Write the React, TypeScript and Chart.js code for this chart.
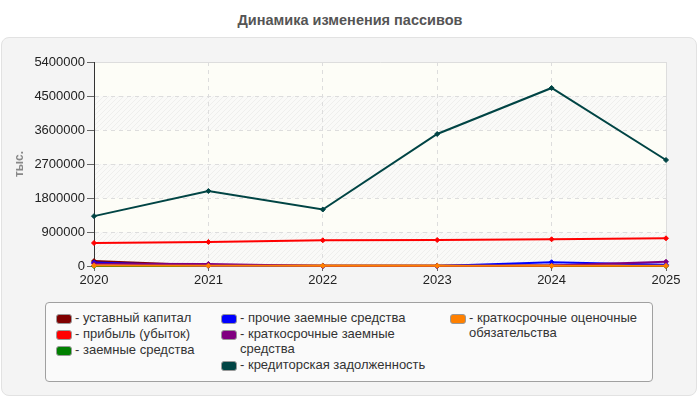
import React, { useEffect, useRef } from "react";
import { Chart, registerables } from "chart.js";

Chart.register(...registerables);

const years = ["2020", "2021", "2022", "2023", "2024", "2025"];
const ustavnyKapital = [130000, 15000, 10000, 10000, 10000, 10000];
const pribyl = [609000, 635000, 680000, 688000, 707000, 733000];
const zaemnye = [0, 0, 0, 0, 0, 0];
const prochieZaemnye = [90000, 0, 0, 0, 100000, 30000];
const kratkoZaemnye = [60000, 55000, 0, 0, 10000, 112000];
const kreditorskaya = [1320000, 1985000, 1495000, 3494000, 4712000, 2806000];
const ocenochnye = [10000, 5000, 5000, 5000, 5000, 5000];

const seriesNames = [
  "уставный капитал",
  "прибыль (убыток)",
  "заемные средства",
  "прочие заемные средства",
  "краткосрочные заемные средства",
  "кредиторская задолженность",
  "краткосрочные оценочные обязательства",
];
const seriesData = [ustavnyKapital, pribyl, zaemnye, prochieZaemnye, kratkoZaemnye, kreditorskaya, ocenochnye];
const seriesColors = ["#800000", "#ff0000", "#008000", "#0000ff", "#800080", "#004444", "#ff8000"];
const seriesOrder = [3, 5, 4, 2, 1, 6, 0];
const legendColumns = [[0, 1, 2], [3, 4, 5], [6]];

const FONT = "Liberation Sans, Arial, sans-serif";

const bgPlugin = {
  id: "bands",
  beforeDraw(chart: any) {
    const { ctx, chartArea } = chart;
    const y = chart.scales.y;
    const pc = document.createElement("canvas");
    pc.width = 5;
    pc.height = 5;
    const p = pc.getContext("2d")!;
    p.fillStyle = "#fafaf8";
    p.fillRect(0, 0, 5, 5);
    p.strokeStyle = "rgba(0,0,0,0.045)";
    p.lineWidth = 1;
    p.beginPath();
    p.moveTo(0, 5);
    p.lineTo(5, 0);
    p.moveTo(-1, 1);
    p.lineTo(1, -1);
    p.moveTo(4, 6);
    p.lineTo(6, 4);
    p.stroke();
    const pattern = ctx.createPattern(pc, "repeat");
    const ticks = y.ticks;
    ctx.save();
    for (let i = 0; i < ticks.length - 1; i++) {
      const y0 = y.getPixelForValue(ticks[i].value);
      const y1 = y.getPixelForValue(ticks[i + 1].value);
      ctx.fillStyle = i % 2 === 0 ? pattern : "#fdfdf7";
      ctx.fillRect(chartArea.left, y1, chartArea.right - chartArea.left, y0 - y1);
    }
    ctx.strokeStyle = "#dddddd";
    ctx.lineWidth = 1;
    ctx.beginPath();
    ctx.moveTo(chartArea.left, chartArea.top + 0.5);
    ctx.lineTo(chartArea.right + 0.5, chartArea.top + 0.5);
    ctx.lineTo(chartArea.right + 0.5, chartArea.bottom);
    ctx.stroke();
    ctx.restore();
  },
};

export default function App() {
  const ref = useRef<HTMLCanvasElement>(null);
  useEffect(() => {
    const chart = new Chart(ref.current!, {
      type: "line",
      data: {
        labels: years,
        datasets: seriesNames.map((name, i) => ({
          label: name,
          data: seriesData[i],
          borderColor: seriesColors[i],
          backgroundColor: seriesColors[i],
          borderWidth: 2,
          pointStyle: "rectRot",
          pointRadius: 2.5,
          pointBorderWidth: 1,
          tension: 0,
          order: seriesOrder[i],
          clip: false as any,
        })),
      },
      options: {
        animation: false,
        responsive: false,
        layout: { padding: { left: 0, right: 34, top: 62, bottom: 114 } },
        plugins: { legend: { display: false }, title: { display: false }, tooltip: { enabled: false } },
        scales: {
          x: {
            offset: false,
            grid: { color: "#dddddd", tickColor: "#666", tickLength: 5, drawOnChartArea: true },
            border: { display: true, color: "#333", dash: [4, 4] },
            ticks: { color: "#222", font: { size: 13, family: FONT }, padding: 2, maxRotation: 0 },
            afterFit: (s: any) => { s.height = 20; },
          },
          y: {
            min: 0,
            max: 5400000,
            ticks: {
              stepSize: 900000,
              color: "#222",
              font: { size: 13, family: FONT },
              padding: 2,
              callback: (v: any) => String(v),
            },
            grid: { color: "#dddddd", tickColor: "#666", tickLength: 7 },
            border: { display: true, color: "#333", dash: [4, 4] },
            title: {
              display: true,
              text: "тыс.",
              color: "#888",
              font: { size: 12, weight: "bold", family: FONT },
              padding: { top: 12, bottom: 0 },
            },
            afterFit: (s: any) => { s.width = 94; },
          },
        },
      },
      plugins: [bgPlugin],
    } as any);
    return () => chart.destroy();
  }, []);

  return (
    <div style={{ position: "fixed", left: 0, top: 0, width: 700, height: 400, background: "#fff", fontFamily: FONT, overflow: "hidden" }}>
      <div style={{ position: "absolute", left: 0, top: 11, width: 700, textAlign: "center", fontWeight: "bold", fontSize: 14.5, color: "#555", lineHeight: "18px" }}>
        Динамика изменения пассивов
      </div>
      <div style={{ position: "absolute", left: 1, top: 37, width: 694, height: 357, background: "#f4f4f4", border: "1px solid #e2e2e2", borderRadius: 8 }} />
      <canvas ref={ref} width={700} height={400} style={{ position: "absolute", left: 0, top: 0, width: 700, height: 400 }} />
      <div style={{ position: "absolute", left: 45, top: 302, width: 606, height: 78, background: "#fafafa", border: "1px solid #a0a0a0", borderRadius: 4 }}>
        {legendColumns.map((col, ci) => (
          <div key={ci} style={{ position: "absolute", left: [10, 175, 404][ci], top: 7, width: ci === 2 ? 200 : 220 }}>
            {col.map((si) => (
              <div key={si} style={{ display: "flex", alignItems: "flex-start", marginBottom: 1 }}>
                <span style={{ display: "inline-block", flex: "0 0 auto", width: 14, height: 8, marginTop: 4, background: seriesColors[si], border: "1px solid #999", borderRadius: 3 }} />
                <span style={{ fontSize: 13, lineHeight: "15px", color: "#333", marginLeft: 3, maxWidth: ci === 2 ? 180 : 200 }}>
                  - {seriesNames[si]}
                </span>
              </div>
            ))}
          </div>
        ))}
      </div>
    </div>
  );
}
